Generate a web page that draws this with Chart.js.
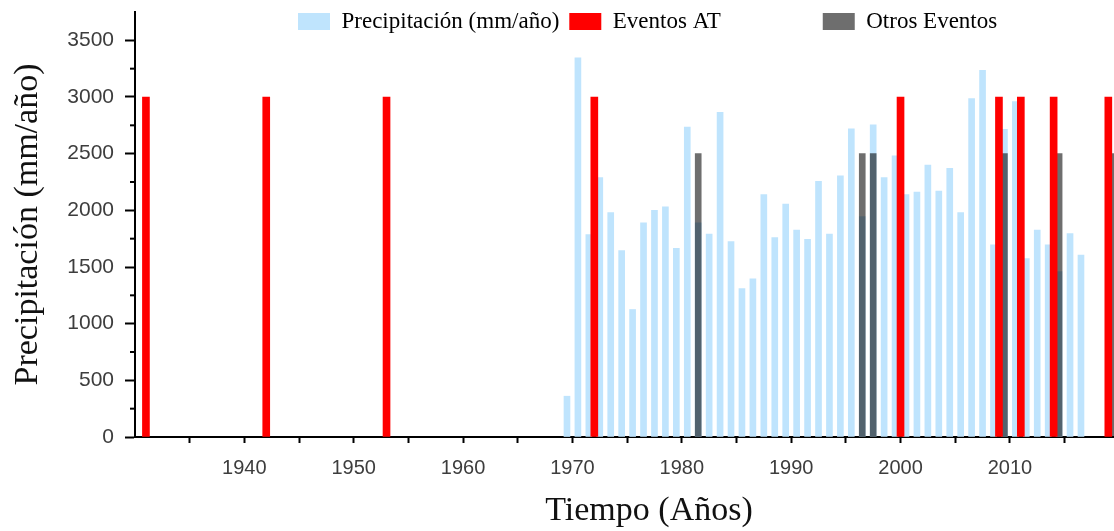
<!DOCTYPE html>
<html lang="es">

<head>
    <meta charset="UTF-8">
    <title>Precipitación y eventos</title>
    <script src="https://cdn.jsdelivr.net/npm/chart.js"></script>
    <style>
        html, body { margin: 0; padding: 0; background: #fff; overflow: hidden; }
    </style>
</head>

<body>
    <!-- el grafico original sigue un poco mas a la derecha del recorte -->
    <canvas id="myChart" width="1163" height="531"></canvas>

    <script>
        // datos
        const anos = [1969, 1970, 1971, 1972, 1973, 1974, 1975, 1976, 1977, 1978,
            1979, 1980, 1981, 1982, 1983, 1984, 1985, 1986, 1987, 1988,
            1989, 1990, 1991, 1992, 1993, 1994, 1995, 1996, 1997, 1998,
            1999, 2000, 2001, 2002, 2003, 2004, 2005, 2006, 2007, 2008,
            2009, 2010, 2011, 2012, 2013, 2014, 2015, 2016];
        const precipitacion = [360, 3345, 1785, 2290, 1980, 1645, 1125, 1890, 2000, 2030,
            1665, 2735, 1890, 1790, 2865, 1725, 1310, 1395, 2140, 1760,
            2055, 1825, 1745, 2255, 1790, 2305, 2720, 1945, 2755, 2290,
            2480, 2140, 2160, 2400, 2170, 2370, 1980, 2985, 3235, 1695,
            2715, 2960, 1575, 1825, 1695, 1460, 1795, 1605];

        const anosEventosAT = [1931, 1942, 1953, 1972, 2000, 2009, 2011, 2014, 2019];
        const eventosAT = [3000, 3000, 3000, 3000, 3000, 3000, 3000, 3000, 3000];

        const anosOtrosEventos = [1981, 1996, 1997, 2009, 2014, 2019];
        const otrosEventos = [2500, 2500, 2500, 2500, 2500, 2500];

        const yTicks = [0, 500, 1000, 1500, 2000, 2500, 3000, 3500];
        const yMinorTicks = [250, 750, 1250, 1750, 2250, 2750, 3250];
        const xTicks = [1935, 1940, 1945, 1950, 1955, 1960, 1965, 1970, 1975, 1980,
            1985, 1990, 1995, 2000, 2005, 2010, 2015, 2020];
        const xLabels = [1940, 1950, 1960, 1970, 1980, 1990, 2000, 2010];

        // las barras anuales se centran en la mitad del año
        const centroAno = 0.5;

        const ajustes = {
            id: 'ajustes',
            beforeLayout(chart) {
                const legend = chart.legend;
                if (legend && !legend._sinAlto) {
                    const fit = legend.fit;
                    legend.fit = function () {
                        fit.call(this);
                        this.height = 0;
                    };
                    legend._sinAlto = true;
                }
            },
            afterLayout(chart) {
                const legend = chart.legend;
                legend.left = 288;
                legend.right = chart.width;
                legend.top = 0;
                legend.bottom = 45;
            },
            afterDraw(chart) {
                const y = chart.scales.y;
                const ctx = chart.ctx;
                ctx.save();
                ctx.strokeStyle = '#000';
                ctx.lineWidth = 2;
                yMinorTicks.forEach(v => {
                    const py = y.getPixelForValue(v);
                    ctx.beginPath();
                    ctx.moveTo(y.right - 5, py);
                    ctx.lineTo(y.right, py);
                    ctx.stroke();
                });
                ctx.restore();
            }
        };

        const ctx = document.getElementById('myChart');
        new Chart(ctx, {
            type: 'bar',
            data: {
                datasets: [
                    {
                        label: 'Precipitación (mm/año)',
                        data: anos.map((a, i) => ({ x: a + centroAno, y: precipitacion[i] })),
                        backgroundColor: '#bfe4fd',
                        barThickness: 6,
                        order: 3
                    },
                    {
                        label: 'Eventos AT',
                        data: anosEventosAT.map((a, i) => ({ x: a, y: eventosAT[i] })),
                        backgroundColor: '#ff0000',
                        barThickness: 7,
                        order: 1
                    },
                    {
                        label: 'Otros Eventos',
                        data: anosOtrosEventos.map((a, i) => ({ x: a + centroAno, y: otrosEventos[i] })),
                        backgroundColor: 'rgba(0, 0, 0, 0.57)',
                        barThickness: 6,
                        order: 2
                    }
                ]
            },
            options: {
                responsive: false,
                animation: false,
                layout: { padding: { top: 12, left: 0, right: 0, bottom: 0 } },
                datasets: { bar: { grouped: false, borderWidth: 0 } },
                plugins: {
                    tooltip: { enabled: false },
                    legend: {
                        position: 'top',
                        align: 'start',
                        labels: {
                            boxWidth: 32,
                            boxHeight: 17,
                            padding: 10,
                            color: '#111',
                            font: { family: "'Liberation Serif', serif", size: 23 },
                            generateLabels(chart) {
                                return chart.data.datasets.map((ds, i) => ({
                                    text: ds.label + (i === 1 ? '\u2003\u2003\u2003\u2003' : ''),
                                    fillStyle: ds.backgroundColor,
                                    strokeStyle: ds.backgroundColor,
                                    lineWidth: 0,
                                    hidden: !chart.isDatasetVisible(i),
                                    datasetIndex: i
                                }));
                            }
                        }
                    }
                },
                scales: {
                    x: {
                        type: 'linear',
                        min: 1930,
                        max: 2024,
                        offset: false,
                        afterFit(scale) {
                            scale.height = 94;
                            scale.paddingLeft = 0;
                            scale.paddingRight = 0;
                        },
                        afterBuildTicks(scale) { scale.ticks = xTicks.map(v => ({ value: v })); },
                        grid: { offset: false, drawOnChartArea: false, tickLength: 6, tickWidth: 2, color: '#000' },
                        border: { color: '#000', width: 2 },
                        ticks: {
                            autoSkip: false,
                            maxRotation: 0,
                            padding: 13,
                            color: '#3d3d3d',
                            font: { family: "'Liberation Sans Narrow', 'Liberation Sans', sans-serif", size: 20 },
                            callback: v => xLabels.includes(v) ? String(v) : ''
                        },
                        title: {
                            display: true,
                            text: 'Tiempo (Años)',
                            color: '#111',
                            font: { family: "'Liberation Serif', serif", size: 34 },
                            padding: { top: 0, bottom: 0 }
                        }
                    },
                    y: {
                        min: 0,
                        max: 3750,
                        afterFit(scale) {
                            scale.width = 135;
                            scale.paddingTop = 0;
                            scale.paddingBottom = 0;
                        },
                        afterBuildTicks(scale) { scale.ticks = yTicks.map(v => ({ value: v })); },
                        grid: { drawOnChartArea: false, tickLength: 10, tickWidth: 2, color: '#000' },
                        border: { color: '#000', width: 2 },
                        ticks: {
                            padding: 11,
                            color: '#3d3d3d',
                            font: { family: "'Liberation Sans', sans-serif", size: 21 },
                            callback: v => String(v)
                        },
                        title: {
                            display: true,
                            text: 'Precipitación (mm/año)',
                            color: '#111',
                            font: { family: "'Liberation Serif', serif", size: 34 },
                            padding: { top: 8, bottom: 0 }
                        }
                    }
                }
            },
            plugins: [ajustes]
        });
    </script>
</body>

</html>
